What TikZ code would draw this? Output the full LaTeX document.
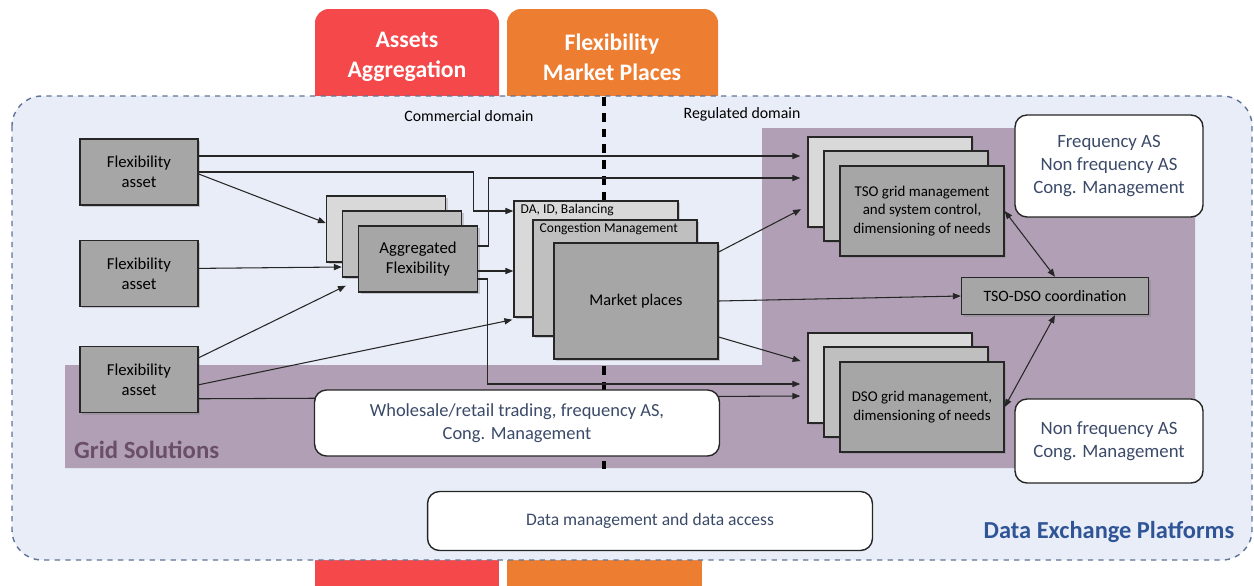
\documentclass[tikz,border=0pt]{standalone}
\usepackage{fontspec}
\setmainfont{Carlito}
\usetikzlibrary{positioning, arrows.meta, calc, shadows}
\definecolor{bgpale}{RGB}{233,237,247}
\definecolor{gridpurple}{RGB}{177,160,181}
\definecolor{framegray}{RGB}{95,115,150}
\definecolor{tabred}{RGB}{244,72,74}
\definecolor{taborange}{RGB}{237,125,49}
\definecolor{boxline}{RGB}{38,38,38}
\definecolor{grayA}{RGB}{217,217,217}
\definecolor{grayB}{RGB}{191,191,191}
\definecolor{grayC}{RGB}{166,166,166}
\definecolor{notenavy}{RGB}{59,74,105}
\definecolor{gridtext}{RGB}{106,78,106}
\definecolor{dexblue}{RGB}{47,85,151}
\tikzset{
  frame/.style={
    draw=framegray,
    fill=bgpale,
    dashed,
    line width=0.8pt,
    rounded corners=0.6cm
  },
  divider/.style={
    line width=1.8pt,
    dash pattern=on 5pt off 4pt
  },
  tabtext/.style={
    text=white,
    align=center,
    font=\bfseries\fontsize{13.5}{17}\selectfont
  },
  boxbase/.style={
    draw=boxline,
    line width=0.8pt,
    align=center,
    inner sep=2pt,
    drop shadow={shadow xshift=1.2pt, shadow yshift=-1.2pt, opacity=0.35}
  },
  asset/.style={
    boxbase,
    fill=grayC,
    minimum width=2.36cm,
    minimum height=1.32cm,
    font=\fontsize{9.5}{11.4}\selectfont
  },
  aggbox/.style={
    boxbase,
    minimum width=2.38cm,
    minimum height=1.32cm,
    font=\fontsize{9.5}{11.4}\selectfont
  },
  mktbox/.style={
    boxbase,
    minimum width=3.28cm,
    minimum height=2.32cm,
    font=\fontsize{9.3}{11}\selectfont
  },
  opbox/.style={
    boxbase,
    minimum width=3.28cm,
    minimum height=1.8cm,
    font=\fontsize{8.5}{10.4}\selectfont
  },
  layer/.style={
    anchor=north west,
    inner xsep=4pt,
    inner ysep=2pt,
    font=\fontsize{7.7}{9}\selectfont
  },
  note/.style={
    draw=boxline,
    fill=white,
    rounded corners=0.24cm,
    line width=0.8pt,
    align=center,
    text=notenavy,
    font=\fontsize{10.7}{13}\selectfont
  },
  domainlbl/.style={
    font=\fontsize{9}{11}\selectfont
  },
  arr/.style={
    draw=black!85,
    line width=0.6pt,
    -{Triangle[length=4.5pt,width=3.5pt]}
  },
  dbl/.style={
    draw=black!85,
    line width=0.6pt,
    {Triangle[length=4.5pt,width=3.5pt]}-{Triangle[length=4.5pt,width=3.5pt]}
  },
  gap/.style={shorten >=4pt}
}

\begin{document}
\begin{tikzpicture}[x=0.02cm, y=-0.02cm]
    \useasboundingbox (0,0) rectangle (1254,585);

    % tabs and background
    \fill[tabred, rounded corners=0.28cm] (315,9) rectangle (499,160);
    \fill[taborange, rounded corners=0.28cm] (507,9) rectangle (718,160);
    \fill[tabred] (315,540) rectangle (499,600);
    \fill[taborange] (507,540) rectangle (702,600);
    \node[tabtext] (tabAgg) at (407,57) {Assets\\Aggregation};
    \node[tabtext] (tabMkt) at (612,57) {Flexibility\\Market Places};

    \draw[frame] (12,96) rectangle (1252,560);
    \fill[gridpurple] (65,365) -- (762,365) -- (762,128) -- (1195,128)
        -- (1195,468) -- (65,468) -- cycle;
    \draw[divider] (604,97) -- (604,470);

    \node[domainlbl] (comLbl) at (469,116) {Commercial domain};
    \node[domainlbl] (regLbl) at (742,114) {Regulated domain};
    \node[anchor=west, text=gridtext, font=\bfseries\fontsize{14.1}{16}\selectfont] (gridLbl) at (68,450) {Grid Solutions};
    \node[text=dexblue, font=\bfseries\fontsize{13.9}{16}\selectfont] (dexLbl) at (1109,532) {Data Exchange Platforms};

    % assets
    \node[asset] (fa1) at (139,172) {Flexibility\\asset};
    \node[asset, below=0.68cm of fa1] (fa2) {Flexibility\\asset};
    \node[asset, below=0.78cm of fa2] (fa3) {Flexibility\\asset};

    % aggregation stack
    \node[aggbox, fill=grayA] (aggB) at (386,229) {};
    \node[aggbox, fill=grayB] (aggM) at ($(aggB)+(16,15)$) {};
    \node[aggbox, fill=grayC] (aggF) at ($(aggM)+(16,15)$) {Aggregated\\Flexibility};

    % market stack
    \node[mktbox, fill=grayA, label={[layer]north west:{DA, ID, Balancing}}] (marB) at (596,259) {};
    \node[mktbox, fill=grayB, label={[layer]north west:{Congestion Management}}] (marM) at ($(marB)+(19,19)$) {};
    \node[mktbox, fill=grayC] (marF) at ($(marM)+(21,23)$) {Market places};

    % operators
    \node[opbox, fill=grayA] (tsoB) at (890,182) {};
    \node[opbox, fill=grayB] (tsoM) at ($(tsoB)+(16,14)$) {};
    \node[opbox, fill=grayC] (tsoF) at ($(tsoM)+(16,15)$) {TSO grid management\\and system control,\\dimensioning of needs};
    \node[opbox, fill=grayA] (dsoB) at (890,378) {};
    \node[opbox, fill=grayB] (dsoM) at ($(dsoB)+(16,14)$) {};
    \node[opbox, fill=grayC] (dsoF) at ($(dsoM)+(16,15)$) {DSO grid management,\\dimensioning of needs};
    \node[boxbase, fill=grayC, minimum width=3.74cm, minimum height=0.74cm, font=\fontsize{9}{11}\selectfont] (tsodso) at (1055,296) {TSO-DSO coordination};

    % connectors
    \draw[arr, gap] ($(fa1.east)+(0,-16)$) -- ($(tsoB.west)+(0,-26)$);
    \draw[arr] (fa1.east) -| ($(marB.west)+(-40,-48)$) -- ($(marB.west)+(0,-48)$);
    \draw[arr] ($(fa1.east)+(0,2)$) -- ($(aggB.west)+(0,-6)$);
    \draw[arr] ($(fa2.east)+(0,-5)$) -- ($(aggM.west)+(0,23)$);
    \draw[arr] ($(fa3.east)+(0,-22)$) -- ($(aggM.south west)+(4,8)$);
    \draw[arr] ($(fa3.east)+(0,5)$) -- ($(marB.south west)+(-1,2)$);
    \draw[arr, gap] ($(fa3.east)+(0,19)$) -- ($(dsoB.west)+(0,18)$);
    \draw[arr, gap] ($(aggF.east)+(0,-13)$) -- ++(10,0) |- ($(tsoB.west)+(0,-4)$);
    \draw[arr] ($(aggF.east)+(0,12)$) -- ($(marB.west)+(0,12)$);
    \draw[arr, gap] ($(aggF.east)+(0,20)$) -- ++(9,0) |- ($(dsoB.west)+(0,6)$);
    \draw[arr, gap] ($(marF.east)+(0,-49)$) -- ($(tsoB.west)+(0,24)$);
    \draw[arr] (marF.east) -- (tsodso.west);
    \draw[arr, gap] ($(marF.east)+(0,36)$) -- ($(dsoB.west)+(0,-15)$);
    \draw[dbl] (tsoF.east) -- (tsodso.north);
    \draw[dbl] (dsoF.east) -- (tsodso.south);

    % notes
    \node[note, minimum width=3.76cm, minimum height=2.04cm] (freqNote) at (1109,166) {Frequency AS\\Non frequency AS\\Cong. Management};
    \node[note, minimum width=3.76cm, minimum height=1.68cm] (dsoNote) at (1109,441) {Non frequency AS\\Cong. Management};
    \node[note, minimum width=8.1cm, minimum height=1.32cm, font=\fontsize{10.5}{13}\selectfont] (tradeNote) at (517,423) {Wholesale/retail trading, frequency AS,\\Cong. Management};
    \node[note, minimum width=8.9cm, minimum height=1.18cm, font=\fontsize{10}{12}\selectfont] (dataNote) at (650,521) {Data management and data access};
\end{tikzpicture}
\end{document}
